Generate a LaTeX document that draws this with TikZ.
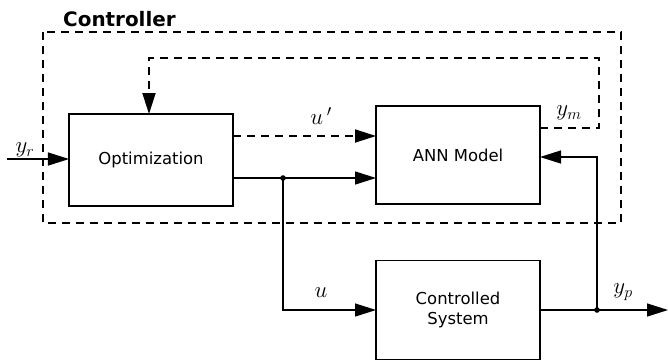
\documentclass[tikz,border=0pt]{standalone}
\usepackage{fix-cm}
\usepackage{fontspec}
\setmainfont{DejaVu Sans}
\usetikzlibrary{arrows.meta}
\begin{document}
\begin{tikzpicture}[x=1bp,y=-1bp,
  box/.style={draw,line width=1.7bp,inner sep=0pt,outer sep=0pt,align=center,
    font=\fontsize{16.5}{20}\selectfont},
  conn/.style={line width=1.4bp},
  dashline/.style={line width=1.8bp,dash pattern=on 8bp off 6bp},
  tip/.style={-{Triangle[length=21bp,width=13bp]}},
  lab/.style={inner sep=0pt,font=\fontsize{23}{27}\selectfont}]
\useasboundingbox (0,0) rectangle (668,361);
% controller frame
\draw[dashline] (43,32) rectangle (621,223);
\node[anchor=base west,inner sep=0pt,font=\bfseries\fontsize{20}{24}\selectfont] (ctrl) at (63,26) {Controller};
% blocks
\node[box,minimum width=164bp,minimum height=92bp] (opt) at (151,160) {Optimization};
\node[box,minimum width=164bp,minimum height=98bp] (ann) at (458,155) {ANN Model};
\node[box,minimum width=164bp,minimum height=99bp] (sys) at (458,310) {Controlled\\System};
% coordinates
\coordinate (in) at (7,159);
\coordinate (fb1) at (599,128);
\coordinate (fb2) at (599,58);
\coordinate (fb3) at (149,58);
\coordinate (up) at (300,136);
\coordinate (j1) at (283,178);
\coordinate (j2) at (597,310);
\coordinate (fbp) at (597,157);
\coordinate (out) at (668,310);
% connectors
\draw[conn,tip] (in) -- (opt.west |- in);
\draw[dashline,tip] (ann.east |- fb1) -- (fb1) -- (fb2) -- (fb3) -- (opt.north -| fb3);
\draw[dashline,tip] (opt.east |- up) -- (ann.west |- up);
\draw[conn] (opt.east |- j1) -- (j1);
\draw[conn,tip] (j1) -- (ann.west |- j1);
\draw[conn,tip] (j1) |- (sys.west);
\draw[conn] (sys.east) -- (j2);
\draw[conn,tip] (j2) -- (out);
\draw[conn,tip] (j2) -- (fbp) -- (ann.east |- fbp);
\fill (j1) circle (2.8bp);
\fill (j2) circle (2.8bp);
% labels
\node[lab] (lyr) at (25,150) {$y_r$};
\node[lab] (lup) at (321,116) {$u\,'$};
\node[lab] (lym) at (569,113) {$y_m$};
\node[lab] (lu) at (321,293) {$u$};
\node[lab] (lyp) at (623,292) {$y_p$};
\end{tikzpicture}
\end{document}
